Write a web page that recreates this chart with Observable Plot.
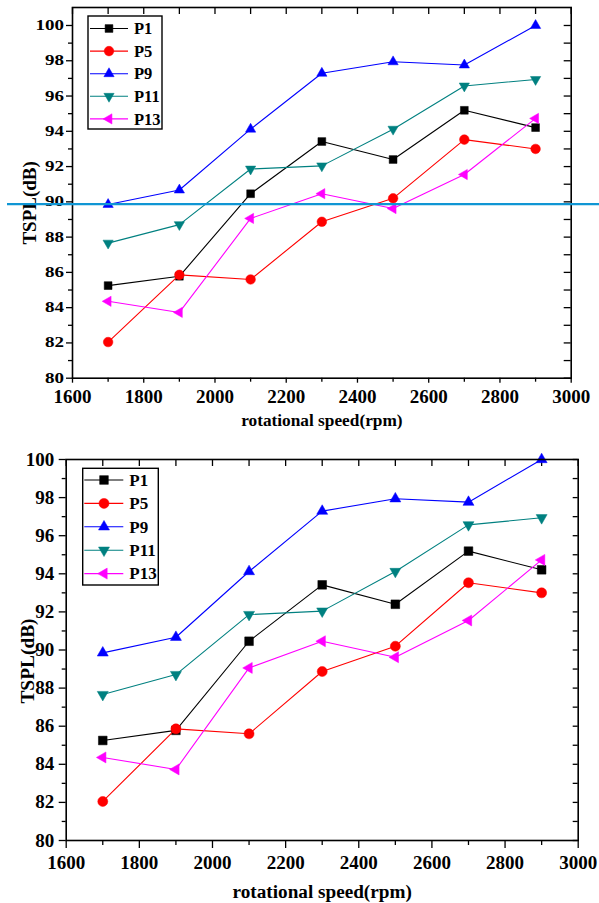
<!DOCTYPE html>
<html>
<head>
<meta charset="utf-8">
<script src="https://cdn.jsdelivr.net/npm/d3@7"></script>
<script src="https://cdn.jsdelivr.net/npm/@observablehq/plot@0.6"></script>
<style>
  html, body { margin: 0; padding: 0; background: #fff; }
  #wrap { position: relative; width: 599px; height: 903px; overflow: hidden; background: #fff; }
  #wrap svg { position: absolute; left: 0; }
</style>
</head>
<body>
<div id="wrap"></div>
<script>
// Total sound pressure level at five measuring points vs. rotational speed
const speeds = [1700, 1900, 2100, 2300, 2500, 2700, 2900];
const P1  = [85.25, 85.78, 90.46, 93.42, 92.40, 95.19, 94.21];
const P5  = [82.05, 85.86, 85.60, 88.87, 90.20, 93.53, 93.00];
const P9  = [89.85, 90.67, 94.12, 97.29, 97.94, 97.76, 100.00];
const P11 = [87.66, 88.71, 91.86, 92.04, 94.12, 96.57, 96.94];
const P13 = [84.36, 83.73, 89.06, 90.46, 89.62, 91.55, 94.73];

const seriesNames  = ["P1", "P5", "P9", "P11", "P13"];
const seriesValues = [P1, P5, P9, P11, P13];
const seriesColors = ["#000000", "#ff0000", "#0000ff", "#008080", "#ff00ff"];

const xMajor = [1600, 1800, 2000, 2200, 2400, 2600, 2800, 3000];
const xMinor = [1700, 1900, 2100, 2300, 2500, 2700, 2900];
const yMajor = [80, 82, 84, 86, 88, 90, 92, 94, 96, 98, 100];
const yMinor = [81, 83, 85, 87, 89, 91, 93, 95, 97, 99];

const xTitle = "rotational speed(rpm)";
const yTitle = "TSPL(dB)";
const refLevel = 89.87;   // horizontal reference level on the upper chart

// long table for the marks
const rows = [];
seriesNames.forEach((name, i) => {
  speeds.forEach((s, j) => rows.push({speed: s, series: name, value: seriesValues[i][j]}));
});

// triangle symbols (same geometry as d3.symbolTriangle2, rotated)
const S3 = Math.sqrt(3);
function triangle(dir) {
  return {
    draw(ctx, size) {
      const y = Math.sqrt(size) * 0.6824, t = y / 2, u = y * S3 / 2;
      let pts;
      if (dir === "up") pts = [[0, -y], [u, t], [-u, t]];
      else if (dir === "down") pts = [[0, y], [u, -t], [-u, -t]];
      else pts = [[-y, 0], [t, -u], [t, u]];
      ctx.moveTo(pts[0][0], pts[0][1]);
      ctx.lineTo(pts[1][0], pts[1][1]);
      ctx.lineTo(pts[2][0], pts[2][1]);
      ctx.closePath();
    }
  };
}
const seriesSymbols = [d3.symbolSquare, d3.symbolCircle, triangle("up"), triangle("down"), triangle("left")];

const FONT = "'Liberation Serif', 'Times New Roman', Times, serif";

function drawChart(cfg) {
  const plotH = cfg.height - cfg.marginTop - cfg.marginBottom;
  const plotW = cfg.width - cfg.marginLeft - cfg.marginRight;
  const marks = [];

  // axes: outward ticks on left/bottom, inward mirror ticks on top/right
  marks.push(
    Plot.axisY({anchor: "left", ticks: yMajor, tickSize: cfg.leftMajor, tickPadding: cfg.leftPad,
      fontSize: cfg.yFont, tickFormat: d3.format("d"), label: null, strokeWidth: 1.3}),
    Plot.axisY({anchor: "left", ticks: yMinor, tickSize: cfg.leftMinor, tickFormat: () => "",
      label: null, strokeWidth: 1.3}),
    Plot.axisX({anchor: "bottom", ticks: xMajor, tickSize: cfg.bottomMajor, tickPadding: cfg.bottomPad,
      fontSize: cfg.xFont, tickFormat: d3.format("d"), label: null, strokeWidth: 1.3}),
    Plot.axisX({anchor: "bottom", ticks: xMinor, tickSize: cfg.bottomMinor, tickFormat: () => "",
      label: null, strokeWidth: 1.3}),
    Plot.tickX(xMajor.concat(xMinor), {x: d => d, insetBottom: plotH - cfg.topTick, stroke: "#000", strokeWidth: 1.3}),
    Plot.tickY(yMajor.concat(yMinor), {y: d => d, insetLeft: plotW - cfg.rightTick, stroke: "#000", strokeWidth: 1.3})
  );

  // series: line then markers, in legend order
  seriesNames.forEach((name, i) => {
    const data = rows.filter(r => r.series === name);
    marks.push(
      Plot.line(data, {x: "speed", y: "value", stroke: seriesColors[i], strokeWidth: 1.1}),
      Plot.dot(data, {x: "speed", y: "value", symbol: seriesSymbols[i], r: cfg.markerR[i],
        fill: seriesColors[i], stroke: seriesColors[i], strokeWidth: 0.5})
    );
  });

  marks.push(Plot.frame({stroke: "#000", strokeWidth: 1.6}));

  // axis titles
  marks.push(
    Plot.text([yTitle], {text: d => d, frameAnchor: "left", textAnchor: "middle", lineAnchor: "middle",
      rotate: -90, dx: cfg.yTitleDx, dy: cfg.yTitleDy,
      fontSize: cfg.yTitleFont, fontWeight: "bold", fill: "#000"}),
    Plot.text([xTitle], {text: d => d, frameAnchor: "bottom", textAnchor: "middle", lineAnchor: "middle",
      dy: cfg.xTitleDy, fontSize: cfg.xTitleFont, fontWeight: "bold", fill: "#000"})
  );

  if (cfg.refLine) {
    marks.push(Plot.ruleY([refLevel], {y: d => d, stroke: "#1096d4", strokeWidth: 2.4,
      insetLeft: -cfg.refLeft, insetRight: -cfg.refRight}));
  }

  const svg = Plot.plot({
    width: cfg.width, height: cfg.height,
    marginTop: cfg.marginTop, marginRight: cfg.marginRight,
    marginBottom: cfg.marginBottom, marginLeft: cfg.marginLeft,
    x: {domain: [1600, 3000]},
    y: {domain: cfg.yDomain},
    style: {fontFamily: FONT, fontWeight: "bold", color: "#000", background: "transparent", overflow: "visible"},
    marks
  });

  if (cfg.yLabelScale !== 1) {
    svg.querySelectorAll('g[aria-label="y-axis tick label"] text').forEach(t => {
      const tr = t.getAttribute("transform") || "";
      t.setAttribute("transform", tr + ` scale(1,${cfg.yLabelScale})`);
    });
  }

  // legend box
  const L = cfg.legend;
  const g = d3.select(svg).append("g").attr("class", "legend");
  g.append("rect").attr("x", L.x).attr("y", L.y).attr("width", L.w).attr("height", L.h)
    .attr("fill", "#fff").attr("stroke", "#000").attr("stroke-width", 1.4);
  seriesNames.forEach((name, i) => {
    const cy = L.row0 + i * L.step;
    g.append("line").attr("x1", L.line1).attr("x2", L.line2).attr("y1", cy).attr("y2", cy)
      .attr("stroke", seriesColors[i]).attr("stroke-width", 1.1);
    g.append("path")
      .attr("d", d3.symbol().type(seriesSymbols[i]).size(Math.PI * cfg.markerR[i] ** 2)())
      .attr("transform", `translate(${L.mark},${cy})`)
      .attr("fill", seriesColors[i]).attr("stroke", seriesColors[i]).attr("stroke-width", 0.5);
    g.append("text").attr("x", L.text).attr("y", cy).attr("dy", "0.34em")
      .attr("text-anchor", "start")
      .attr("font-family", FONT).attr("font-weight", "bold").attr("font-size", L.font)
      .attr("fill", "#000").text(name);
  });

  svg.style.top = cfg.top + "px";
  document.getElementById("wrap").appendChild(svg);
}

// upper chart
drawChart({
  top: 0, width: 599, height: 440,
  marginTop: 7, marginRight: 28.3, marginBottom: 62.3, marginLeft: 72,
  yDomain: [80, 101.02],
  leftMajor: 6, leftMinor: 4, leftPad: 2.5,
  bottomMajor: 5, bottomMinor: 4, bottomPad: 6.5,
  topTick: 7, rightTick: 7,
  yFont: 19, xFont: 19, yLabelScale: 0.74,
  yTitleFont: 19, yTitleDx: -43, yTitleDy: 10,
  xTitleFont: 17.3, xTitleDy: 42,
  markerR: [4.4, 4.8, 4.9, 4.9, 4.9],
  refLine: true, refLeft: 65, refRight: 40,
  legend: {x: 88, y: 16, w: 74, h: 113, row0: 28.5, step: 22.6, line1: 90, line2: 128, mark: 109, text: 134, font: 16.5}
});

// lower chart
drawChart({
  top: 440, width: 599, height: 463,
  marginTop: 19, marginRight: 21.3, marginBottom: 63, marginLeft: 65.7,
  yDomain: [80, 100],
  leftMajor: 7, leftMinor: 4, leftPad: 5,
  bottomMajor: 8, bottomMinor: 5, bottomPad: 6.5,
  topTick: 7, rightTick: 5,
  yFont: 19, xFont: 19, yLabelScale: 1,
  yTitleFont: 19.4, yTitleDx: -38.2, yTitleDy: 11,
  xTitleFont: 19.2, xTitleDy: 51,
  markerR: [4.9, 5, 5.25, 5.25, 5.25],
  refLine: false,
  legend: {x: 82.7, y: 28.3, w: 75.6, h: 116.7, row0: 40, step: 23.4, line1: 84.3, line2: 123.3, mark: 104, text: 129.3, font: 17}
});
</script>
</body>
</html>
